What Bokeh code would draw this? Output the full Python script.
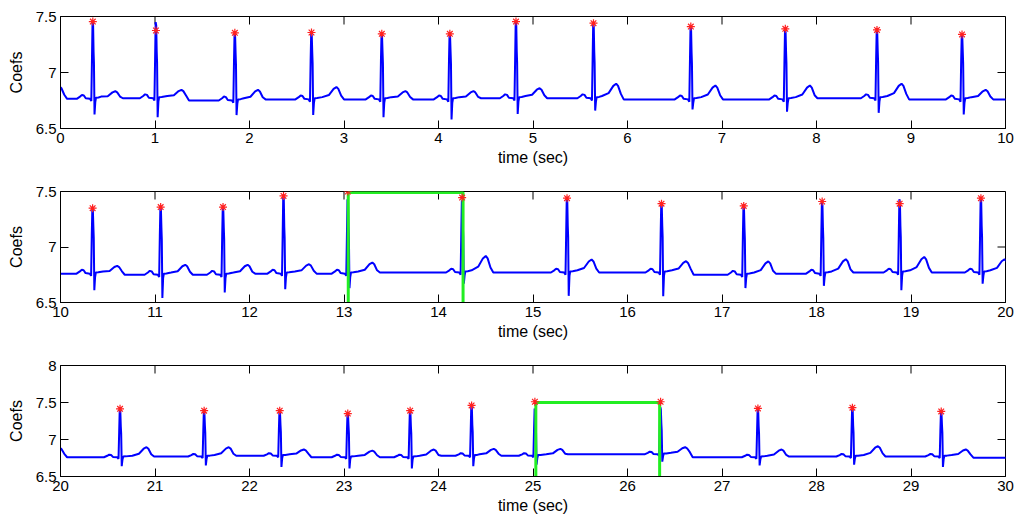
from bokeh.plotting import figure
from bokeh.layouts import column
from bokeh.models import FixedTicker, Range1d
from bokeh.embed import file_html
from bokeh.resources import INLINE

# ---------------- data ----------------
# R-peak times (s); first beat lies just before t=0 (only its T wave is visible)
beat_times = [-0.27, 0.342, 1.01, 1.845, 2.656, 3.40, 4.12, 4.82, 5.64, 6.67, 7.67, 8.64, 9.54,
              10.34, 11.06, 11.72, 12.36, 13.04, 14.25, 15.36, 16.36, 17.23, 18.06, 18.88, 19.74,
              20.63, 21.52, 22.32, 23.04, 23.70, 24.35, 25.02, 26.35, 27.38, 28.38, 29.32]
# detected peak markers (red stars)
peak_values = [7.40, 7.455, 7.375, 7.354, 7.357, 7.345, 7.345, 7.455, 7.44, 7.41, 7.39, 7.38, 7.34,
               7.35, 7.36, 7.36, 7.46, 7.50, 7.445, 7.44, 7.39, 7.37, 7.41, 7.39, 7.44,
               7.415, 7.39, 7.39, 7.35, 7.39, 7.46, 7.51, 7.51, 7.42, 7.43, 7.38]
# top of the blue R spike
spike_tops = [7.40, 7.455, 7.45, 7.354, 7.357, 7.345, 7.345, 7.455, 7.44, 7.41, 7.39, 7.38, 7.34,
              7.35, 7.36, 7.36, 7.46, 7.43, 7.42, 7.44, 7.39, 7.37, 7.41, 7.43, 7.44,
              7.415, 7.39, 7.39, 7.35, 7.39, 7.46, 7.42, 7.44, 7.42, 7.43, 7.38]
# S-wave minimum
s_values = [6.62, 6.625, 6.60, 6.62, 6.62, 6.60, 6.58, 6.63, 6.66, 6.67, 6.65, 6.64, 6.625,
            6.61, 6.54, 6.59, 6.62, 6.63, 6.67, 6.56, 6.557, 6.63, 6.65, 6.61, 6.67,
            6.64, 6.65, 6.63, 6.61, 6.61, 6.64, 6.66, 6.70, 6.65, 6.66, 6.63]
# T-wave peak value and time
t_values = [6.875, 6.833, 6.845, 6.845, 6.87, 6.833, 6.833, 6.86, 6.90, 6.884, 6.884, 6.90, 6.845,
            6.83, 6.84, 6.84, 6.845, 6.86, 6.92, 6.887, 6.872, 6.87, 6.89, 6.91, 6.89,
            6.896, 6.896, 6.865, 6.85, 6.865, 6.874, 6.874, 6.896, 6.865, 6.91, 6.865]
t_times = [-0.01, 0.58, 1.28, 2.09, 2.92, 3.65, 4.37, 5.07, 5.88, 6.93, 7.93, 8.90, 9.79,
           10.60, 11.32, 11.98, 12.63, 13.30, 14.50, 15.62, 16.62, 17.49, 18.31, 19.14, 19.99,
           20.91, 21.78, 22.575, 23.30, 23.95, 24.585, 25.29, 26.61, 27.63, 28.65, 29.58]
# isoelectric level around each beat
baselines = [6.77, 6.765, 6.77, 6.75, 6.76, 6.76, 6.76, 6.77, 6.77, 6.76, 6.76, 6.77, 6.76,
             6.76, 6.75, 6.75, 6.76, 6.76, 6.77, 6.77, 6.77, 6.75, 6.76, 6.77, 6.77,
             6.76, 6.77, 6.78, 6.76, 6.76, 6.78, 6.78, 6.80, 6.76, 6.77, 6.77]
# trace level after the last beat and where the recording ends
tail_value = 6.755
tail_time = 30.5

# green RR-interval boxes: (left, right, top, bottom) per panel
box_left = [None, 13.045, 25.03]
box_right = [None, 14.26, 26.34]
box_top = [None, 7.49, 7.50]
box_bottom = [None, 6.45, 6.45]

panel_x = [(0, 10), (10, 20), (20, 30)]
panel_y = [(6.5, 7.5), (6.5, 7.5), (6.5, 8.0)]
y_ticks = [6.5, 7, 7.5, 8]
y_tick_labels = ["6.5", "7", "7.5", "8"]
x_label = "time (sec)"
y_label = "Coefs"

# ---------------- assemble the ECG trace from beat features ----------------
sx, sy = [], []
n = len(beat_times)
for i in range(n):
    r = beat_times[i]
    b = baselines[i]
    bn = baselines[i + 1] if i + 1 < n else tail_value
    top = spike_tops[i]
    S = s_values[i]
    T = t_values[i]
    tt = t_times[i]
    A = T - b
    pts = [
        (r - 0.17, b), (r - 0.135, b + 0.02), (r - 0.115, b + 0.035), (r - 0.095, b + 0.03),
        (r - 0.075, b + 0.005), (r - 0.03, b), (r - 0.016, b - 0.02),
        (r - 0.009, b + 0.35), (r - 0.003, top), (r + 0.003, top - 0.03),
        (r + 0.008, b + 0.42), (r + 0.012, b + 0.32), (r + 0.018, S),
        (r + 0.026, b - 0.03), (r + 0.034, b + 0.01), (r + 0.06, b + 0.012),
        (tt - 0.15, b + 0.02), (tt - 0.08, b + 0.35 * A), (tt - 0.03, b + 0.85 * A),
        (tt, T), (tt + 0.02, b + 0.85 * A), (tt + 0.05, b + 0.3 * A), (tt + 0.08, bn),
    ]
    for px, py in pts:
        sx.append(px)
        sy.append(py)
sx.append(tail_time)
sy.append(tail_value)

FONT = "Liberation Sans"
FRAME_W = 945
TICK_PX = 8
# (border top, border bottom, frame height)
borders = [(16, 55, 112), (8, 55, 111), (8, 45, 111)]

figs = []
for k in range(3):
    bt, bb, fh = borders[k]
    x0, x1 = panel_x[k]
    y0, y1 = panel_y[k]
    p = figure(frame_width=FRAME_W, frame_height=fh,
               x_range=Range1d(x0, x1), y_range=Range1d(y0, y1),
               output_backend="svg", toolbar_location=None,
               min_border_left=60, min_border_right=19,
               min_border_top=bt, min_border_bottom=bb)
    p.grid.visible = False
    p.outline_line_color = "black"
    p.outline_line_width = 1
    p.background_fill_color = "white"
    p.border_fill_color = "white"

    xt = list(range(x0, x1 + 1))
    yt = [v for v in y_ticks if y0 <= v <= y1]
    overrides = {v: lab for v, lab in zip(y_ticks, y_tick_labels)}

    xa = p.xaxis[0]
    ya = p.yaxis[0]
    xa.ticker = FixedTicker(ticks=xt)
    xa.axis_label = x_label
    ya.ticker = FixedTicker(ticks=yt)
    ya.major_label_overrides = overrides
    ya.axis_label = y_label
    for ax in (xa, ya):
        ax.major_tick_in = TICK_PX
        ax.major_tick_out = 0
        ax.minor_tick_line_color = None
        ax.axis_line_color = "black"
        ax.major_tick_line_color = "black"
        ax.major_tick_line_width = 1
        ax.major_label_text_font = FONT
        ax.major_label_text_color = "black"
        ax.major_label_text_font_size = "15px"
        ax.major_label_standoff = 4
        ax.axis_label_text_font = FONT
        ax.axis_label_text_font_style = "normal"
        ax.axis_label_text_color = "black"
        ax.axis_label_text_font_size = "16px"
    xa.axis_label_standoff = 3
    ya.axis_label_standoff = 8

    # mirrored inward ticks on the top and right edges of the box
    dy = TICK_PX * (y1 - y0) / fh
    dx = TICK_PX * (x1 - x0) / FRAME_W
    p.segment(x0=xt, y0=[y1] * len(xt), x1=xt, y1=[y1 - dy] * len(xt),
              line_color="black", line_width=1)
    p.segment(x0=[x1] * len(yt), y0=yt, x1=[x1 - dx] * len(yt), y1=yt,
              line_color="black", line_width=1)

    seg = [(a, c) for a, c in zip(sx, sy) if x0 - 1 <= a <= x1 + 1]
    p.line([a for a, _ in seg], [c for _, c in seg], line_color="#0000ff", line_width=2)

    if box_left[k] is not None:
        p.line([box_left[k], box_left[k], box_right[k], box_right[k]],
               [box_bottom[k], box_top[k], box_top[k], box_bottom[k]],
               line_color="#22ee22", line_width=3)

    pk = [(t, v) for t, v in zip(beat_times, peak_values) if x0 <= t <= x1]
    p.scatter([t for t, _ in pk], [v for _, v in pk], marker="asterisk", size=8,
              line_color="#ff2020", line_width=1.2)
    figs.append(p)

layout = column(*figs, spacing=0)
open("out.html", "w").write(file_html(layout, INLINE))
